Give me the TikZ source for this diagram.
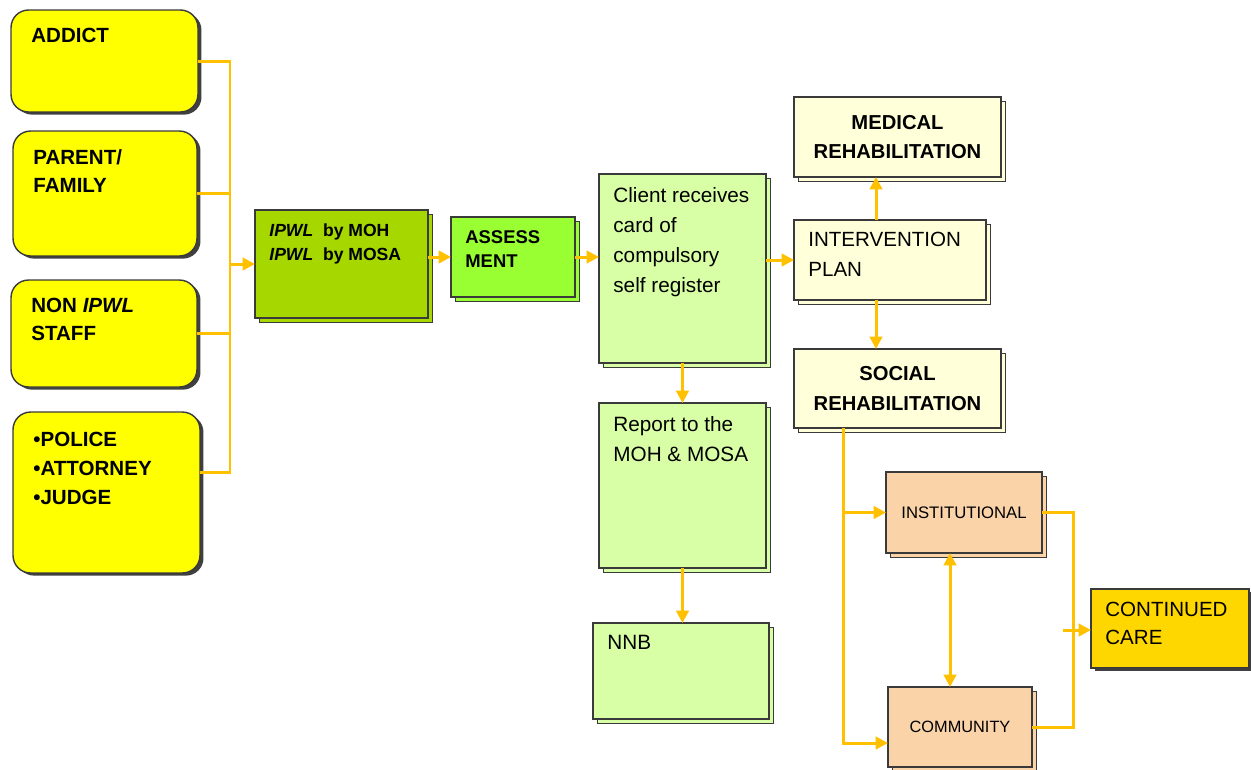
\documentclass[tikz,border=0pt]{standalone}
\usepackage{fontspec}
\setmainfont{Liberation Sans}
\usetikzlibrary{arrows.meta,shadows}
\definecolor{yelc}{HTML}{FFFF00}
\definecolor{olivec}{HTML}{A6D800}
\definecolor{limec}{HTML}{99FF33}
\definecolor{palegreen}{HTML}{D9FFA6}
\definecolor{creamc}{HTML}{FFFFD9}
\definecolor{peachc}{HTML}{FAD3A8}
\definecolor{goldc}{HTML}{FFD700}
\definecolor{edgec}{HTML}{3A3A3A}
\definecolor{arrowc}{HTML}{FFC000}

\tikzset{
  box/.style={draw=edgec, line width=.8pt, inner sep=0pt, outer sep=0pt},
  ybox/.style={box, fill=yelc, rounded corners=10pt,
    general shadow={shadow xshift=2pt, shadow yshift=-1.5pt, fill=black!75}},
  sbox/.style={box, fill=#1,
    general shadow={shadow xshift=2.5pt, shadow yshift=-2.5pt, fill=#1, draw=edgec, line width=.8pt}},
  tl/.style={anchor=north west, inner sep=0pt, align=left, xshift=.28cm, yshift=-.26cm},
  ytl/.style={tl, xshift=.12cm, yshift=-.1cm, font=\bfseries\fontsize{11.7}{16}\selectfont},
  link/.style={draw=arrowc, line width=1.7pt},
  arr/.style={link, -{Triangle[length=7pt,width=7pt]}},
  darr/.style={link, {Triangle[length=7pt,width=7pt]}-{Triangle[length=7pt,width=7pt]}}
}

\begin{document}
\begin{tikzpicture}[x=0.02cm, y=-0.02cm]
\useasboundingbox (0,0) rectangle (1251,769);

% who refers the client
\node[ybox, minimum width=3.74cm, minimum height=2.04cm, label={[ytl]north west:ADDICT}] (addict) at (104.5,61) {};
\node[ybox, minimum width=3.68cm, minimum height=2.50cm, label={[ytl]north west:PARENT/\\FAMILY}] (parent) at (105,193.5) {};
\node[ybox, minimum width=3.72cm, minimum height=2.14cm, label={[ytl]north west:NON \textit{IPWL}\\STAFF}] (nonstaff) at (104,333.5) {};
\node[ybox, minimum width=3.74cm, minimum height=3.22cm, label={[ytl, yshift=-.04cm, font=\bfseries\fontsize{11.7}{16.5}\selectfont]north west:\textbullet POLICE\\\textbullet ATTORNEY\\\textbullet JUDGE}] (police) at (106.5,492.5) {};

\node[sbox=olivec, minimum width=3.46cm, minimum height=2.16cm, label={[tl, font=\bfseries\fontsize{10}{14}\selectfont]north west:\textit{IPWL}~ by MOH\\\textit{IPWL}~ by MOSA}] (ipwl) at (341.5,264) {};
\node[sbox=limec, minimum width=2.48cm, minimum height=1.60cm, label={[tl, font=\bfseries\fontsize{10.5}{13.6}\selectfont]north west:ASSESS\\MENT}] (assess) at (513,257) {};

\node[sbox=palegreen, minimum width=3.34cm, minimum height=3.78cm, label={[tl, font=\fontsize{11.8}{17}\selectfont]north west:Client receives\\card of\\compulsory\\self register}] (client) at (682.5,268.5) {};
\node[sbox=palegreen, minimum width=3.34cm, minimum height=3.30cm, label={[tl, font=\fontsize{11.8}{17}\selectfont]north west:Report to the\\MOH \& MOSA}] (report) at (682.5,485.5) {};
\node[sbox=palegreen, minimum width=3.52cm, minimum height=1.92cm, label={[tl, yshift=.02cm, font=\fontsize{11.8}{17}\selectfont]north west:NNB}] (nnb) at (681,671) {};

\node[sbox=creamc, minimum width=3.84cm, minimum height=1.60cm, label={[tl, yshift=.02cm, font=\fontsize{11.7}{17}\selectfont]north west:INTERVENTION\\PLAN}] (interv) at (890,260) {};
\node[sbox=creamc, minimum width=4.14cm, minimum height=1.60cm, align=center, font=\bfseries\fontsize{11.5}{17}\selectfont] (medical) at (897.5,137) {MEDICAL\\REHABILITATION};
\node[sbox=creamc, minimum width=4.14cm, minimum height=1.58cm, align=center, font=\bfseries\fontsize{11.5}{17}\selectfont] (social) at (897.5,388.5) {SOCIAL\\REHABILITATION};

\node[sbox=peachc, minimum width=3.12cm, minimum height=1.62cm, font=\fontsize{9.5}{12}\selectfont] (inst) at (964,512.5) {INSTITUTIONAL};
\node[sbox=peachc, minimum width=2.88cm, minimum height=1.60cm, font=\fontsize{9.3}{12}\selectfont] (comm) at (960,727) {COMMUNITY};
\node[ybox, fill=goldc, rounded corners=0pt, minimum width=3.16cm, minimum height=1.58cm, label={[tl, font=\fontsize{11.7}{16}\selectfont]north west:CONTINUED\\CARE}] (cont) at (1170,628.5) {};

% connectors
\coordinate (bus) at (230,472);
\coordinate (join) at (1073,630);
\draw[link] (addict.east) -| (bus) -- (bus -| police.east);
\draw[link] (parent.east) -- (parent.east -| bus);
\draw[link] (nonstaff.east) -- (nonstaff.east -| bus);
\draw[arr] (bus |- ipwl.west) -- (ipwl.west);
\draw[arr] (ipwl.east |- assess.west) -- (assess.west);
\draw[arr] (assess.east) -- (assess.east -| client.west);
\draw[arr] (client.east |- interv.west) -- (interv.west);
\draw[arr] (client.south) -- (report.north);
\draw[arr] (report.south) -- (report.south |- nnb.north);
\draw[arr] ([xshift=-.28cm]interv.north) -- ([xshift=-.28cm]interv.north |- medical.south);
\draw[arr] ([xshift=-.28cm]interv.south) -- ([xshift=-.28cm]interv.south |- social.north);
\draw[arr] ([xshift=-1.09cm]social.south) |- ([yshift=-.32cm]comm.west);
\draw[arr] ([xshift=-1.09cm]social.south |- inst.west) -- (inst.west);
\draw[darr] ([xshift=-.28cm]inst.south) -- ([xshift=-.28cm]inst.south |- comm.north);
\draw[link] (inst.east) -| (join) |- (comm.east);
\draw[arr] ([xshift=-.2cm]join) -- (join -| cont.west);
\end{tikzpicture}
\end{document}
